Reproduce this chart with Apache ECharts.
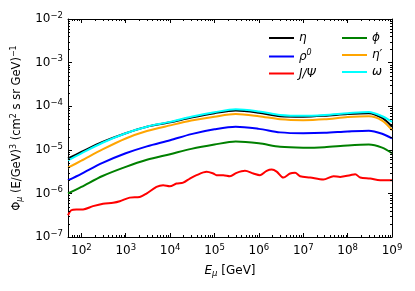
<!DOCTYPE html>
<html><head><meta charset="utf-8">
<script src="https://cdn.jsdelivr.net/npm/echarts@6/dist/echarts.min.js"></script>
<style>html,body{margin:0;padding:0;background:#fff}#c{width:415px;height:291px}</style>
</head><body><div id="c"></div>
<script>
const energies = [50, 100, 300, 1e3, 3e3, 1e4, 3e4, 1e5, 3e5, 1e6, 3e6, 1e7, 3e7, 1e8, 3e8, 6e8, 1e9];
const etaFlux   = [6.31e-6, 8.91e-6, 1.51e-5, 2.40e-5, 3.39e-5, 4.27e-5, 5.50e-5, 6.92e-5, 7.94e-5, 7.08e-5, 5.89e-5, 5.75e-5, 6.03e-5, 6.61e-5, 6.92e-5, 5.37e-5, 3.39e-5];
const omegaFlux = [5.75e-6, 8.32e-6, 1.45e-5, 2.40e-5, 3.39e-5, 4.37e-5, 5.75e-5, 7.24e-5, 8.51e-5, 7.59e-5, 6.31e-5, 6.03e-5, 6.31e-5, 6.92e-5, 7.41e-5, 5.89e-5, 4.37e-5];
const etaPrimeFlux = [3.89e-6, 5.62e-6, 1.02e-5, 1.82e-5, 2.69e-5, 3.63e-5, 4.68e-5, 5.75e-5, 6.61e-5, 5.89e-5, 5.01e-5, 4.79e-5, 5.01e-5, 5.62e-5, 5.89e-5, 4.68e-5, 2.82e-5];
const rhoFlux   = [2.00e-6, 2.82e-6, 5.01e-6, 8.32e-6, 1.20e-5, 1.66e-5, 2.29e-5, 2.95e-5, 3.39e-5, 3.02e-5, 2.51e-5, 2.40e-5, 2.45e-5, 2.63e-5, 2.75e-5, 2.34e-5, 1.82e-5];
const phiFlux   = [1.00e-6, 1.41e-6, 2.51e-6, 4.07e-6, 5.89e-6, 7.94e-6, 1.05e-5, 1.32e-5, 1.55e-5, 1.41e-5, 1.17e-5, 1.12e-5, 1.15e-5, 1.26e-5, 1.32e-5, 1.12e-5, 8.32e-6];
const jpsiEnergies = [50, 59, 77, 109, 183, 308, 519, 733, 1230, 2070, 2930, 4930, 6970, 9860, 1.39e4, 1.97e4, 2.79e4, 3.94e4, 6.64e4, 9.38e4, 1.11e5, 1.58e5, 2.23e5, 3.15e5, 4.86e5, 7.50e5, 1.06e6, 1.50e6, 1.95e6, 2.52e6, 3.56e6, 5.05e6, 6.55e6, 8.49e6, 1.43e7, 2.85e7, 4.80e7, 6.78e7, 1.14e8, 1.48e8, 1.92e8, 3.23e8, 5.42e8, 1e9];
const jpsiFlux = [3.15e-7, 4.1e-7, 4.3e-7, 4.3e-7, 5.1e-7, 5.8e-7, 6.1e-7, 6.6e-7, 8.0e-7, 8.3e-7, 9.9e-7, 1.41e-6, 1.54e-6, 1.46e-6, 1.68e-6, 1.77e-6, 2.19e-6, 2.62e-6, 3.12e-6, 2.86e-6, 2.62e-6, 2.62e-6, 2.48e-6, 2.96e-6, 3.29e-6, 2.86e-6, 2.62e-6, 3.29e-6, 3.53e-6, 3.17e-6, 2.31e-6, 2.86e-6, 2.96e-6, 2.48e-6, 2.31e-6, 2.08e-6, 2.48e-6, 2.39e-6, 2.62e-6, 2.76e-6, 2.31e-6, 2.19e-6, 2.01e-6, 2.01e-6];
const seriesNames = ['η', 'ρ0', 'J/Ψ', 'ϕ', 'η′', 'ω'];
const xTickLabels = ['10²','10³','10⁴','10⁵','10⁶','10⁷','10⁸','10⁹'];

const zip = (xs, ys) => xs.map((x, i) => [x, ys[i]]);
const supLabel = v => {
  const e = Math.round(Math.log10(v));
  if (Math.abs(Math.log10(v) - e) > 1e-6) return '';
  return '10{s|' + (e < 0 ? '−' + (-e) : e) + '}';
};
const font = 'DejaVu Sans';
const labRich = { s: { fontSize: 8.5, verticalAlign: 'top', padding: [0,0,7,0], fontFamily: font, color: '#000' } };
const chart = echarts.init(document.getElementById('c'), null, { renderer: 'canvas' });
const lineS = (name, data, color, z) => ({
  name, type: 'line', data, smooth: 0.3, showSymbol: false, symbol: 'none', z,
  lineStyle: { color, width: 2 }, itemStyle: { color }, xAxisIndex: 0, yAxisIndex: 0
});
const axisCommon = {
  axisLine: { show: true, onZero: false, lineStyle: { color: '#000', width: 1 } },
  axisTick: { show: true, inside: true, length: 4, lineStyle: { color: '#000' } },
  minorTick: { show: false },
  splitLine: { show: false }, minorSplitLine: { show: false }
};
const legendText = { fontFamily: font, fontStyle: 'italic', fontSize: 12, color: '#000',
  rich: { u: { fontFamily: font, fontSize: 8, verticalAlign: 'top', padding: [0,0,7,0] } } };
const legendFmt = n => n === 'ρ0' ? 'ρ{u|0}' : n;
chart.setOption({
  animation: false,
  backgroundColor: '#fff',
  grid: { left: 68, right: 23, top: 19, bottom: 54 },
  xAxis: [
    Object.assign({ type: 'log', logBase: 10, min: 50, max: 1e9, position: 'bottom',
      name: '{i|E}{s|μ} [GeV]', nameLocation: 'middle', nameGap: 27,
      nameTextStyle: { fontFamily: font, fontSize: 12, color: '#000',
        rich: { i: { fontStyle: 'italic', fontFamily: font, fontSize: 12 }, s: { fontStyle: 'italic', fontSize: 8.5, verticalAlign: 'bottom', padding: [5,0,0,0], fontFamily: font } } },
      axisLabel: { fontFamily: font, fontSize: 12, color: '#000', margin: 6, showMinLabel: false,
        formatter: v => supLabel(v), rich: labRich } }, axisCommon),
    Object.assign({ type: 'log', logBase: 10, min: 50, max: 1e9, position: 'top', axisLabel: { show: false } }, axisCommon)
  ],
  yAxis: [
    Object.assign({ type: 'log', logBase: 10, min: 1e-7, max: 1e-2, position: 'left',
      name: 'Φ{s|μ} (E/GeV){u|3} (cm{u|2} s sr GeV){u|−1}', nameLocation: 'middle', nameGap: 36,
      nameTextStyle: { fontFamily: font, fontSize: 11.5, color: '#000',
        rich: { s: { fontStyle: 'italic', fontSize: 8, fontFamily: font, verticalAlign: 'bottom', padding: [5,0,0,0] }, u: { fontSize: 8, fontFamily: font, verticalAlign: 'top', padding: [0,0,6,0] } } },
      axisLabel: { fontFamily: font, fontSize: 12, color: '#000', margin: 5,
        formatter: v => supLabel(v), rich: labRich } }, axisCommon),
    Object.assign({ type: 'log', logBase: 10, min: 1e-7, max: 1e-2, position: 'right', axisLabel: { show: false } }, axisCommon)
  ],
  legend: [
    { data: seriesNames.slice(0, 3), formatter: legendFmt, orient: 'vertical', left: 264, top: 27, itemGap: 5, itemWidth: 25, itemHeight: 2, icon: 'rect', textStyle: legendText },
    { data: seriesNames.slice(3), formatter: legendFmt, orient: 'vertical', left: 337, top: 27, itemGap: 5, itemWidth: 25, itemHeight: 2, icon: 'rect', textStyle: legendText }
  ],
  series: [
    lineS(seriesNames[0], zip(energies, etaFlux), '#000000', 3),
    lineS(seriesNames[1], zip(energies, rhoFlux), '#0000ff', 3),
    lineS(seriesNames[2], zip(jpsiEnergies, jpsiFlux), '#ff0000', 3),
    lineS(seriesNames[3], zip(energies, phiFlux), '#008000', 3),
    lineS(seriesNames[4], zip(energies, etaPrimeFlux), '#ffa500', 3),
    lineS(seriesNames[5], zip(energies, omegaFlux), '#00ffff', 4)
  ]
});
// log-style minor ticks (2..9 per decade), placed through the axis scales
const g = [];
const xs = { min: 50, max: 1e9 }, ys = { min: 1e-7, max: 1e-2 };
const x0 = chart.convertToPixel({ xAxisIndex: 0 }, xs.min), x1 = chart.convertToPixel({ xAxisIndex: 0 }, xs.max);
const y0 = chart.convertToPixel({ yAxisIndex: 0 }, ys.min), y1 = chart.convertToPixel({ yAxisIndex: 0 }, ys.max);
const tick = (a, b, c, d) => g.push({ type: 'line', silent: true, shape: { x1: a, y1: b, x2: c, y2: d }, style: { stroke: '#000', lineWidth: 1 }, z: 10 });
for (let e = 1; e <= 8; e++) for (let k = 2; k <= 9; k++) {
  const v = k * Math.pow(10, e);
  if (v < xs.min || v > xs.max) continue;
  const px = Math.round(chart.convertToPixel({ xAxisIndex: 0 }, v)) + 0.5;
  tick(px, y0, px, y0 - 2); tick(px, y1, px, y1 + 2);
}
for (let e = -7; e <= -3; e++) for (let k = 2; k <= 9; k++) {
  const v = k * Math.pow(10, e);
  const py = Math.round(chart.convertToPixel({ yAxisIndex: 0 }, v)) + 0.5;
  tick(x0, py, x0 + 2, py); tick(x1, py, x1 - 2, py);
}
chart.setOption({ graphic: g });
</script></body></html>
